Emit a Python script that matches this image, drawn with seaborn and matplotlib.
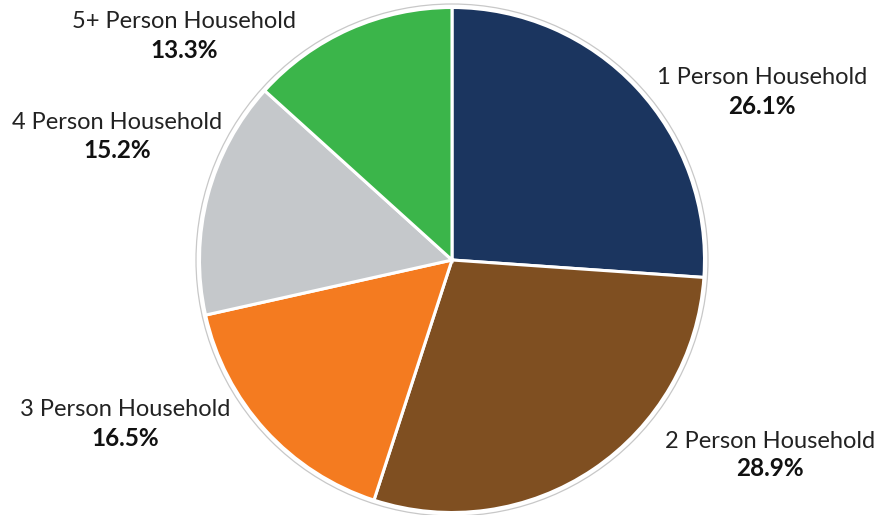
import matplotlib
matplotlib.use("Agg")
import matplotlib.pyplot as plt
from matplotlib.patches import Circle
import seaborn as sns

sns.set_theme(style="white")
plt.rcParams["font.family"] = ["Lato", "DejaVu Sans"]

categories = ["1 Person Household", "2 Person Household", "3 Person Household",
              "4 Person Household", "5+ Person Household"]
shares = [26.1, 28.9, 16.5, 15.2, 13.3]
colors = ["#1B355F", "#7F4F21", "#F47B20", "#C5C8CB", "#3BB54A"]

# label anchor points in figure pixels (x, y from top)
label_pos = [(762, 78), (770, 441), (125, 410), (117, 123), (184, 22)]

W, H = 878, 515
fig = plt.figure(figsize=(W / 100, H / 100), dpi=100)
cx, cy, half = 452, 260, 258
ax = fig.add_axes([(cx - half) / W, (H - cy - half) / H, 2 * half / W, 2 * half / H])
ax.pie(shares, colors=colors, startangle=90, counterclock=False, radius=252.5,
       wedgeprops=dict(edgecolor="white", linewidth=2.2))
ax.add_patch(Circle((0, 0), 256, fill=False, edgecolor="#C8C8C8", linewidth=0.9))
ax.set_xlim(-half, half)
ax.set_ylim(-half, half)
ax.set_aspect("equal")
ax.axis("off")

for cat, val, (px, py) in zip(categories, shares, label_pos):
    fig.text(px / W, 1 - py / H, cat, ha="center", va="center",
             fontsize=17, color="#222222")
    fig.text(px / W, 1 - (py + 28) / H, f"{val:.1f}%", ha="center", va="center",
             fontsize=17.5, fontweight="bold", color="#111111")

fig.savefig("out.png", dpi=100)
